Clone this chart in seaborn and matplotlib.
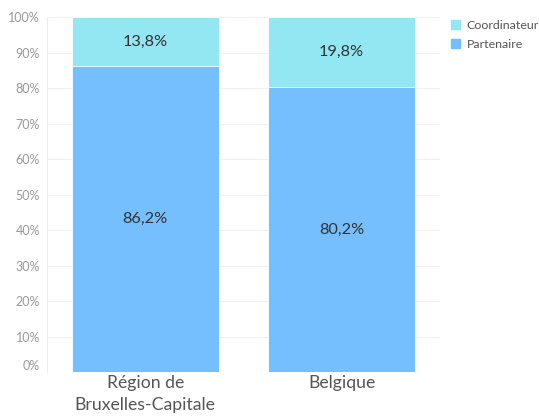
import matplotlib
matplotlib.use("Agg")
import matplotlib.pyplot as plt
import seaborn as sns
import pandas as pd
from matplotlib.patches import Patch

# données
regions = ["Région de\nBruxelles-Capitale", "Belgique"]
partenaire = [86.2, 80.2]
coordinateur = [13.8, 19.8]
labels_part = ["86,2%", "80,2%"]
labels_coord = ["13,8%", "19,8%"]

col_coord = "#93E7F3"
col_part = "#75BFFF"

sns.set_style("white")
plt.rcParams["font.family"] = ["Lato", "DejaVu Sans"]

df = pd.DataFrame({
    "Region": regions,
    "Partenaire": partenaire,
    "Total": [p + c for p, c in zip(partenaire, coordinateur)],
})

fig = plt.figure(figsize=(5.39, 4.18), dpi=100)
ax = fig.add_axes([0.0872, 0.110, 0.729, 0.849])

# barres empilées: total (coordinateur) puis partenaire par-dessus
sns.barplot(data=df, x="Region", y="Total", color=col_coord, width=0.75,
            saturation=1, edgecolor="white", linewidth=0.6, ax=ax)
sns.barplot(data=df, x="Region", y="Partenaire", color=col_part, width=0.75,
            saturation=1, edgecolor="white", linewidth=0.6, ax=ax)

for i in range(len(regions)):
    ax.text(i, partenaire[i] / 2, labels_part[i], ha="center", va="center",
            fontsize=11.8, color="#333333")
    ax.text(i, partenaire[i] + coordinateur[i] / 2, labels_coord[i], ha="center",
            va="center", fontsize=11.8, color="#333333")

ax.set_xlim(-0.5, 1.5)
ax.set_ylim(0, 100)
ax.set_yticks(range(0, 101, 10))
ax.set_yticklabels([f"{v}%" for v in range(0, 101, 10)], fontsize=9, color="#999999")
ax.yaxis.get_majorticklabels()[0].set_va("bottom")
ax.set_xticks(range(len(regions)))
ax.set_xticklabels(regions, fontsize=12.7, color="#555555", linespacing=1.45)
ax.tick_params(axis="x", length=0, pad=2)
ax.tick_params(axis="y", length=0, pad=5)
ax.set_xlabel("")
ax.set_ylabel("")
ax.set_axisbelow(True)
ax.yaxis.grid(True, color="#f0f0f0", linewidth=0.8)

for s in ["top", "right", "bottom"]:
    ax.spines[s].set_visible(False)
ax.spines["left"].set_color("#eeeeee")
ax.spines["left"].set_linewidth(0.8)

handles = [Patch(color=col_coord, label="Coordinateur"),
           Patch(color=col_part, label="Partenaire")]
fig.legend(handles=handles, loc="upper left", bbox_to_anchor=(0.837, 0.952),
           frameon=False, fontsize=8.9, handlelength=0.75, handleheight=0.75,
           handletextpad=0.5, labelspacing=0.65, borderpad=0, borderaxespad=0,
           labelcolor="#555555")

fig.savefig("out.png", dpi=100)
